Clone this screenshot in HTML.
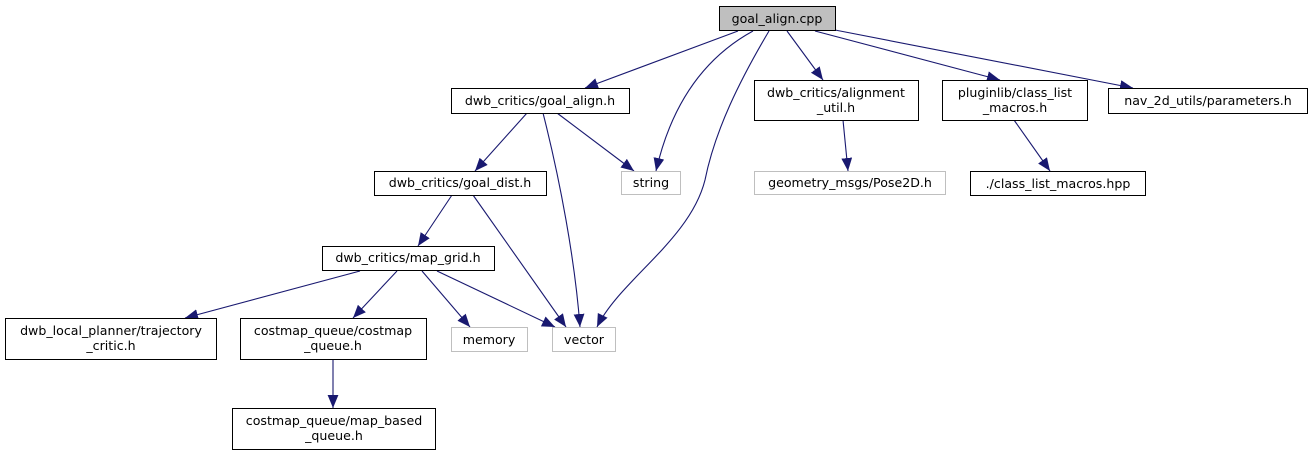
<!DOCTYPE html>
<html><head><meta charset="utf-8"><style>
body{margin:0;background:#fff}
svg text{font-family:"DejaVu Sans","Liberation Sans",sans-serif;font-size:12.6px;text-anchor:middle}
</style></head><body>
<svg width="1312" height="455" xmlns="http://www.w3.org/2000/svg">
<defs><marker id="a" viewBox="0 0 12 10" refX="12" refY="5" markerWidth="13" markerHeight="11" markerUnits="userSpaceOnUse" orient="auto"><path d="M0,0 L12,5 L0,10z" fill="#191970"/></marker></defs>
<g fill="none" stroke="#191970" stroke-width="1.1" marker-end="url(#a)">
<path d="M738,31 L585,88"/>
<path d="M753,31 C700,60 670,110 656,171"/>
<path d="M769,31 C740,80 715,130 705,180 C690,240 620,280 597,327"/>
<path d="M787,31 L823,80"/>
<path d="M815,31 L1000,80"/>
<path d="M835,30 L1133,88"/>
<path d="M527,113 L475,171"/>
<path d="M543,113 C560,180 575,260 580,327"/>
<path d="M557,113 L634,171"/>
<path d="M452,195 L418,246"/>
<path d="M473,195 L566,327"/>
<path d="M360,271 L185,318"/>
<path d="M397,271 L353,318"/>
<path d="M422,271 L470,327"/>
<path d="M437,271 L555,327"/>
<path d="M843,120 L848,171"/>
<path d="M1014,120 L1050,171"/>
<path d="M333,359 L333,408"/>
</g>
<g stroke-width="1">
<rect x="719.5" y="6.5" width="116" height="24" fill="#bfbfbf" stroke="#000"/>
<rect x="451.5" y="88.5" width="178" height="25" fill="#fff" stroke="#000"/>
<rect x="621.5" y="171.5" width="59" height="23" fill="#fff" stroke="#bfbfbf"/>
<rect x="374.5" y="171.5" width="172" height="24" fill="#fff" stroke="#000"/>
<rect x="754.5" y="80.5" width="164" height="40" fill="#fff" stroke="#000"/>
<rect x="754.5" y="171.5" width="191" height="23" fill="#fff" stroke="#bfbfbf"/>
<rect x="942.5" y="80.5" width="145" height="40" fill="#fff" stroke="#000"/>
<rect x="970.5" y="171.5" width="175" height="24" fill="#fff" stroke="#000"/>
<rect x="1108.5" y="88.5" width="199" height="25" fill="#fff" stroke="#000"/>
<rect x="322.5" y="246.5" width="172" height="24" fill="#fff" stroke="#000"/>
<rect x="5.5" y="318.5" width="211" height="41" fill="#fff" stroke="#000"/>
<rect x="240.5" y="318.5" width="186" height="41" fill="#fff" stroke="#000"/>
<rect x="451.5" y="327.5" width="76" height="24" fill="#fff" stroke="#bfbfbf"/>
<rect x="552.5" y="327.5" width="63" height="24" fill="#fff" stroke="#bfbfbf"/>
<rect x="232.5" y="408.5" width="203" height="41" fill="#fff" stroke="#000"/>
</g>
<g fill="#000">
<text x="777" y="23">goal_align.cpp</text>
<text x="540" y="105">dwb_critics/goal_align.h</text>
<text x="651" y="187">string</text>
<text x="460" y="187">dwb_critics/goal_dist.h</text>
<text x="836" y="97">dwb_critics/alignment</text>
<text x="836" y="112">_util.h</text>
<text x="850" y="187">geometry_msgs/Pose2D.h</text>
<text x="1015" y="97">pluginlib/class_list</text>
<text x="1015" y="112">_macros.h</text>
<text x="1058" y="188">./class_list_macros.hpp</text>
<text x="1208" y="105">nav_2d_utils/parameters.h</text>
<text x="408" y="262">dwb_critics/map_grid.h</text>
<text x="111" y="335">dwb_local_planner/trajectory</text>
<text x="111" y="350">_critic.h</text>
<text x="333" y="335">costmap_queue/costmap</text>
<text x="333" y="350">_queue.h</text>
<text x="489" y="344">memory</text>
<text x="584" y="344">vector</text>
<text x="334" y="425">costmap_queue/map_based</text>
<text x="334" y="440">_queue.h</text>
</g>
</svg>
</body></html>
